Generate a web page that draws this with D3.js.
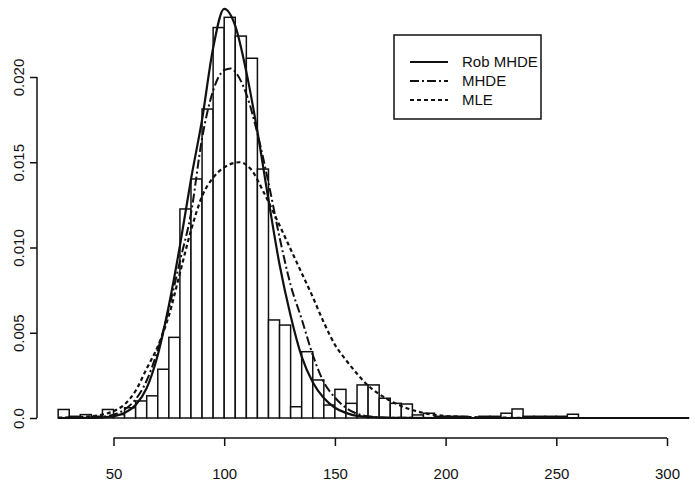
<!DOCTYPE html>
<html>
<head>
<meta charset="utf-8">
<script src="https://cdn.jsdelivr.net/npm/d3@7.9.0/dist/d3.min.js"></script>
<style>
  html, body { margin: 0; padding: 0; background: #fff; }
  svg text { font-family: 'Liberation Sans', Arial, sans-serif; fill: #111; }
</style>
</head>
<body>
<svg id="chart" width="695" height="490"></svg>
<script>
// histogram: left edge of each 5-wide bin and its density
const binWidth = 5;
const binStart = [25, 30, 35, 40, 45, 50, 55, 60, 65, 70, 75, 80, 85, 90, 95, 100, 105, 110, 115, 120,
  125, 130, 135, 140, 145, 150, 155, 160, 165, 170, 175, 180, 185, 190, 195, 200, 205, 210, 215, 220,
  225, 230, 235, 240, 245, 250, 255];
const binDensity = [0.0005, 0.0001, 0.0002, 0.0001, 0.0005, 0.0002, 0.0006, 0.0010, 0.0013, 0.00286,
  0.00473, 0.01226, 0.01402, 0.01812, 0.0229, 0.0235, 0.0224, 0.0211, 0.0146, 0.00575,
  0.00545, 0.00066, 0.00389, 0.00223, 0.00076, 0.00168, 0.00086, 0.00194, 0.00194, 0.00116,
  0.00086, 0.00082, 0.00018, 0.00028, 0.0001, 0.0001, 0.0001, 0.0, 0.0001, 0.0001,
  0.00028, 0.00053, 0.0001, 0.0001, 0.0001, 0.0001, 0.00022];

// fitted densities
const robX = [25, 40, 45, 50, 55, 60, 65, 70, 75, 80, 85, 90, 95, 100, 105, 110, 115, 120, 125, 130,
  135, 140, 145, 150, 155, 160, 170, 180, 200, 250, 310];
const robY = [0, 0.00001, 0.00004, 0.0001, 0.0003, 0.00076, 0.00176, 0.0037, 0.0066, 0.0101, 0.0140,
  0.0175, 0.0217, 0.0240, 0.0230, 0.0203, 0.0168, 0.0128, 0.0090, 0.0060, 0.0036, 0.0021, 0.00117,
  0.0006, 0.0003, 0.00012, 0.00003, 0.00001, 0, 0, 0];

const mhdeX = [25, 40, 50, 55, 60, 65, 70, 75, 80, 85, 90, 95, 100, 103, 105, 110, 115, 120, 125, 130,
  135, 140, 145, 150, 155, 160, 165, 175, 200, 310];
const mhdeY = [0, 0.00002, 0.0002, 0.0005, 0.0011, 0.0022, 0.0040, 0.0064, 0.0092, 0.0120, 0.0164,
  0.0192, 0.0204, 0.0205, 0.0203, 0.0190, 0.0167, 0.0138, 0.0106, 0.0078, 0.0058, 0.0037, 0.0021,
  0.0012, 0.0006, 0.00025, 0.0001, 0.00002, 0, 0];

const mleX = [25, 40, 45, 50, 55, 60, 65, 70, 75, 80, 85, 90, 95, 100, 107, 112, 118, 125, 130, 135,
  140, 145, 150, 155, 160, 165, 170, 180, 190, 200, 220, 250, 310];
const mleY = [0.00002, 0.0001, 0.0002, 0.0004, 0.0008, 0.0016, 0.0029, 0.0042, 0.0060, 0.0085, 0.0110,
  0.0130, 0.0141, 0.0147, 0.0150, 0.0146, 0.0132, 0.0113, 0.0099, 0.0085, 0.0071, 0.0056, 0.0043,
  0.0034, 0.0026, 0.0019, 0.0014, 0.0007, 0.0003, 0.00012, 0.00003, 0, 0];

const xTicks = [50, 100, 150, 200, 250, 300];
const yTicks = [0, 0.005, 0.010, 0.015, 0.020];
const yTickLabels = ['0.0', '0.005', '0.010', '0.015', '0.020'];
const legendLabels = ['Rob MHDE', 'MHDE', 'MLE'];
const legendDash = [null, '9,3,2,3', '4,3'];

const svg = d3.select('#chart');
const x = d3.scaleLinear().domain([50, 300]).range([113.5, 667]);
const y = d3.scaleLinear().domain([0, 0.02]).range([418, 77]);
const ink = '#111';

// bars
svg.append('g')
  .selectAll('rect')
  .data(binStart.map((s, i) => ({ s, d: binDensity[i] })))
  .join('rect')
  .attr('x', (d) => x(d.s))
  .attr('width', (d) => x(d.s + binWidth) - x(d.s))
  .attr('y', (d) => y(d.d))
  .attr('height', (d) => y(0) - y(d.d))
  .attr('fill', '#fff')
  .attr('stroke', ink)
  .attr('stroke-width', 1.5);

// curves
const line = d3.line()
  .x((d) => x(d[0]))
  .y((d) => y(d[1]))
  .curve(d3.curveMonotoneX);

const curves = [
  { xs: robX, ys: robY, dash: legendDash[0], w: 2.2 },
  { xs: mhdeX, ys: mhdeY, dash: legendDash[1], w: 2 },
  { xs: mleX, ys: mleY, dash: legendDash[2], w: 2.2 },
];

curves.forEach((c) => {
  svg.append('path')
    .datum(c.xs.map((v, i) => [v, c.ys[i]]))
    .attr('d', line)
    .attr('fill', 'none')
    .attr('stroke', ink)
    .attr('stroke-width', c.w)
    .attr('stroke-dasharray', c.dash);
});

// x axis, R style: detached below the plot
const xAxis = svg.append('g')
  .attr('transform', 'translate(0,438)')
  .call(d3.axisBottom(x).tickValues(xTicks).tickSize(8).tickPadding(22).tickFormat(d3.format('d')));
xAxis.select('.domain').attr('stroke', ink).attr('stroke-width', 1.5)
  .attr('d', `M${x(50)},0H${x(300)}`);
xAxis.selectAll('.tick line').attr('stroke', ink).attr('stroke-width', 1.5);
xAxis.selectAll('.tick text').attr('font-size', 15).attr('font-family', "'Liberation Sans', Arial, sans-serif");

// y axis with rotated labels
const yAxis = svg.append('g')
  .attr('transform', 'translate(37,0)')
  .call(d3.axisLeft(y).tickValues(yTicks).tickSize(7).tickFormat((d, i) => yTickLabels[i]));
yAxis.select('.domain').attr('stroke', ink).attr('stroke-width', 1.5)
  .attr('d', `M0,${y(0)}V${y(0.02)}`);
yAxis.selectAll('.tick line').attr('stroke', ink).attr('stroke-width', 1.5);
yAxis.selectAll('.tick text')
  .attr('font-size', 15)
  .attr('font-family', "'Liberation Sans', Arial, sans-serif")
  .attr('x', null).attr('dy', null)
  .attr('text-anchor', 'middle')
  .attr('transform', 'translate(-13,0) rotate(-90)');

// legend
const legend = svg.append('g');
legend.append('rect')
  .attr('x', 394).attr('y', 35).attr('width', 147).attr('height', 84)
  .attr('fill', '#fff').attr('stroke', ink).attr('stroke-width', 1.5);
legendLabels.forEach((label, i) => {
  const ly = 62 + i * 19;
  legend.append('line')
    .attr('x1', 410).attr('x2', 448).attr('y1', ly).attr('y2', ly)
    .attr('stroke', ink).attr('stroke-width', 1.8)
    .attr('stroke-dasharray', legendDash[i]);
  legend.append('text')
    .attr('x', 462).attr('y', ly + 5)
    .attr('font-size', 15)
    .text(label);
});
</script>
</body>
</html>
